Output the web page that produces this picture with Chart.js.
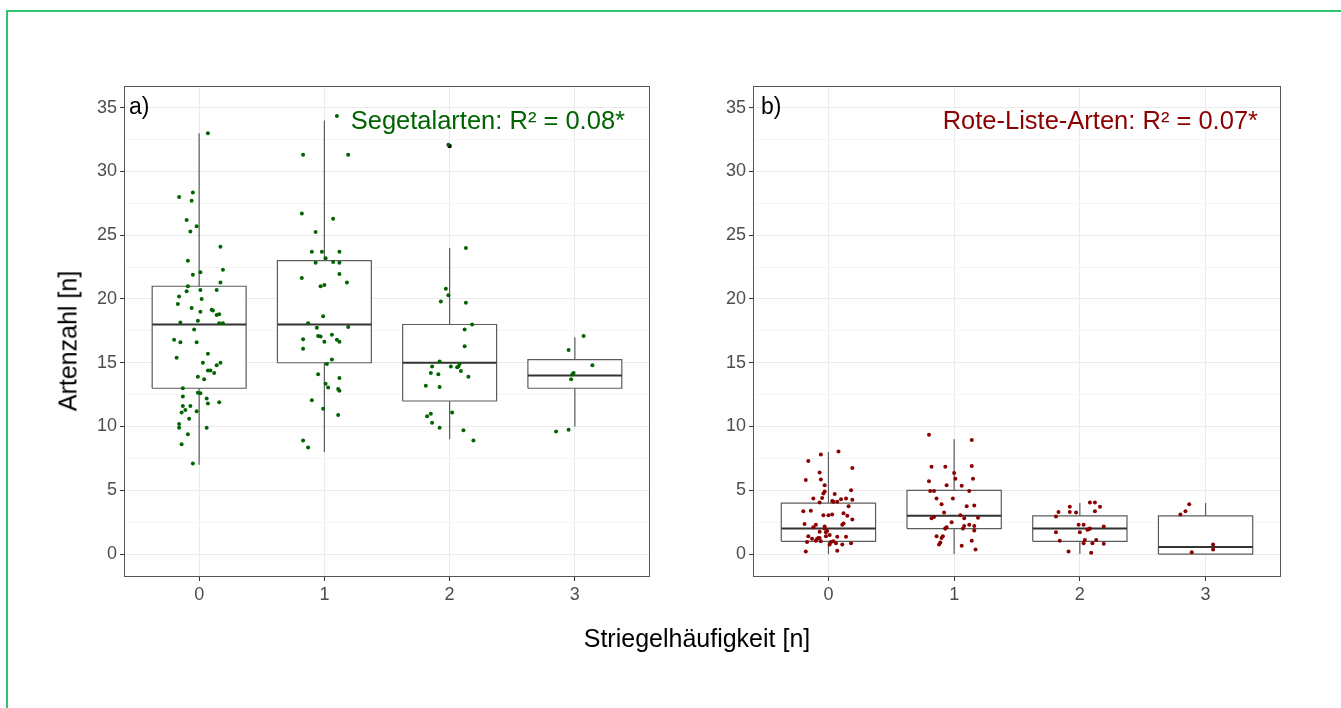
<!DOCTYPE html>
<html>
<head>
<meta charset="utf-8">
<script src="https://cdn.jsdelivr.net/npm/chart.js@4/dist/chart.umd.min.js"></script>
<style>
  body { margin: 0; background: #fff; font-family: "Liberation Sans", Arial, sans-serif; }
  #page { position: relative; width: 1341px; height: 708px; overflow: hidden; }
  #frame { position: absolute; left: 6px; top: 10px; width: 1400px; height: 800px;
           border-top: 2px solid #2ec46e; border-left: 2px solid #2ec46e; }
  canvas { position: absolute; top: 0; }
  .txt { position: absolute; line-height: 1; white-space: nowrap; }
</style>
</head>
<body>
<div id="page">
  <div id="frame"></div>
  <canvas id="chartA" width="680" height="708" style="left:0"></canvas>
  <canvas id="chartB" width="661" height="708" style="left:680px"></canvas>
  <div class="txt" style="left:129px; top:95px; font-size:23px; color:#000">a)</div>
  <div class="txt" style="right:716px; top:108px; font-size:25.5px; color:#006400">Segetalarten: R² = 0.08*</div>
  <div class="txt" style="left:761px; top:95px; font-size:23px; color:#000">b)</div>
  <div class="txt" style="right:83px; top:108px; font-size:25.5px; color:#8b0000">Rote-Liste-Arten: R² = 0.07*</div>
  <div class="txt" style="left:68px; top:341px; font-size:25px; color:#000; transform: translate(-50%, -50%) rotate(-90deg);">Artenzahl [n]</div>
  <div class="txt" style="left:697px; top:626px; font-size:25px; color:#000; transform: translateX(-50%);">Striegelhäufigkeit [n]</div>
</div>
<script>
// Striegelhäufigkeit (Kategorien) und Achsenticks
const groups = [0, 1, 2, 3];
const yTicks = [0, 2.5, 5, 7.5, 10, 12.5, 15, 17.5, 20, 22.5, 25, 27.5, 30, 32.5, 35];

// a) Segetalarten - Boxplot-Kennwerte
const segLow    = [7, 8, 9, 10];
const segQ1     = [13, 15, 12, 13];
const segMedian = [18, 18, 15, 14];
const segQ3     = [21, 23, 18, 15.25];
const segHigh   = [33, 34, 24, 17];
const segOutliers = [[2, 32]];

// a) Einzelwerte (gejittert): [x, Artenzahl]
const segPoints = [
  [0.07,33.0],[-0.16,28.0],[-0.05,28.35],[-0.06,27.7],[-0.10,26.2],[-0.02,25.7],[-0.07,25.3],[0.17,24.1],
  [-0.09,23.0],[0.19,22.3],[-0.05,21.9],[0.01,22.1],[0.17,21.3],[-0.09,21.0],[-0.10,20.6],[0.01,20.7],
  [0.14,20.7],[-0.16,20.2],[-0.17,19.6],[0.02,20.0],[-0.06,19.3],[0.01,19.0],[0.11,19.1],[0.10,19.15],
  [0.14,18.75],[0.16,18.8],[-0.01,18.3],[-0.15,18.15],[0.16,18.1],[0.19,18.1],[-0.04,17.6],[-0.20,16.8],
  [-0.15,16.6],[-0.02,16.6],[0.07,15.7],[-0.18,15.4],[0.03,15.0],[0.17,15.0],[0.14,14.8],[0.07,14.4],
  [0.09,14.4],[0.12,14.2],[-0.01,13.9],[0.04,13.7],[-0.13,13.0],[-0.01,12.65],[0.01,12.6],[-0.13,12.35],
  [0.06,12.2],[0.16,11.9],[0.07,11.8],[-0.13,11.6],[-0.07,11.6],[-0.11,11.3],[-0.14,11.1],[-0.02,11.2],
  [-0.08,10.6],[-0.16,10.2],[-0.16,9.9],[0.06,9.9],[-0.09,9.4],[-0.14,8.6],[-0.05,7.1],
  [1.10,34.35],[0.83,31.3],[1.19,31.3],[0.82,26.7],[1.07,26.3],[0.93,25.25],[0.90,23.7],[0.98,23.7],
  [1.12,23.7],[0.93,22.85],[1.01,23.2],[1.07,22.9],[1.12,22.85],[0.82,21.65],[1.12,21.95],[1.18,21.3],
  [0.97,21.0],[1.00,21.1],[0.99,18.65],[0.87,18.1],[1.19,17.8],[0.94,17.75],[0.83,16.85],[0.95,17.1],
  [0.97,17.05],[1.06,17.2],[1.00,16.65],[1.10,16.8],[1.12,16.65],[0.83,16.1],[1.06,15.25],[1.02,14.9],
  [0.95,14.1],[1.12,13.8],[1.01,13.35],[1.03,13.05],[1.11,12.95],[1.12,12.8],[0.90,12.05],[0.99,11.4],
  [1.11,10.9],[0.83,8.9],[0.87,8.35],
  [1.99,32.1],[2.13,24.0],[1.97,20.8],[1.99,20.3],[1.93,19.8],[2.13,19.7],[2.18,18.0],[2.12,17.6],
  [2.12,16.3],[1.92,15.1],[1.86,14.7],[2.01,14.7],[2.07,14.7],[2.08,14.9],[2.06,14.65],[2.09,14.35],
  [1.85,14.2],[1.91,14.1],[2.15,13.9],[1.81,13.2],[1.92,13.1],[2.02,11.1],[1.82,10.8],[1.85,11.0],
  [1.86,10.3],[1.92,9.9],[2.11,9.7],[2.19,8.9],
  [3.07,17.1],[2.95,16.0],[3.14,14.8],[2.99,14.2],[2.98,14.1],[2.97,13.7],[2.85,9.6],[2.95,9.75]
];

// b) Rote-Liste-Arten - Boxplot-Kennwerte
const rlLow    = [0, 0, 0, 0];
const rlQ1     = [1, 2, 1, 0];
const rlMedian = [2, 3, 2, 0.55];
const rlQ3     = [4, 5, 3, 3];
const rlHigh   = [8, 9, 4, 4];
const rlOutliers = [];

// b) Einzelwerte (gejittert)
const rlPoints = [
  [-0.16,7.3],[-0.06,7.8],[0.08,8.05],[-0.18,5.8],[-0.07,6.4],[-0.06,5.85],[0.19,6.75],[-0.03,5.4],
  [-0.03,4.9],[-0.04,4.75],[0.05,4.7],[0.18,5.0],[-0.12,4.35],[-0.05,4.4],[0.03,4.15],[0.04,4.1],
  [0.07,4.1],[0.10,4.3],[0.14,4.35],[0.19,4.25],[-0.07,4.05],[0.16,3.75],[-0.20,3.35],[-0.14,3.4],
  [-0.04,3.05],[0.00,3.05],[0.03,3.1],[0.12,3.2],[0.15,3.0],[0.19,2.7],[-0.19,2.35],[-0.10,2.3],
  [0.11,2.3],[0.12,2.4],[-0.12,2.1],[-0.03,2.15],[-0.03,2.0],[-0.07,1.75],[-0.02,1.7],[-0.01,1.8],
  [0.01,1.5],[-0.16,1.4],[-0.13,1.2],[-0.09,1.2],[-0.08,1.25],[-0.07,1.25],[0.07,1.35],[0.14,1.35],
  [-0.02,1.4],[-0.17,0.95],[-0.10,1.05],[-0.06,1.0],[0.02,0.95],[0.04,1.0],[0.06,0.85],[0.01,0.75],
  [0.11,0.75],[0.18,0.85],[-0.18,0.2],[0.07,0.25],
  [0.80,9.35],[1.14,8.95],[0.82,6.85],[0.93,6.85],[1.14,6.9],[1.00,6.35],[1.01,5.9],[1.15,5.9],
  [0.80,5.7],[0.94,5.4],[1.06,5.35],[0.81,4.95],[0.84,4.95],[1.12,4.95],[0.86,4.35],[0.99,4.35],
  [0.90,3.9],[1.10,3.75],[1.16,3.8],[0.92,3.25],[0.84,2.9],[0.82,2.8],[1.05,3.05],[1.08,2.8],
  [1.19,2.85],[0.98,2.5],[1.12,2.3],[1.08,2.2],[0.94,2.1],[0.93,2.0],[1.07,2.0],[1.16,2.2],
  [1.16,1.85],[0.93,2.0],[0.86,1.4],[0.91,1.4],[0.90,1.25],[1.14,1.05],[0.89,0.9],[0.88,0.75],
  [1.06,0.65],[1.17,0.35],
  [2.08,4.05],[2.12,4.05],[1.92,3.7],[2.16,3.7],[1.83,3.3],[1.92,3.3],[1.97,3.25],[2.12,3.35],
  [1.81,2.95],[1.99,2.3],[2.03,2.3],[2.19,2.15],[2.08,2.0],[2.07,1.95],[2.06,1.9],[1.81,1.7],
  [2.00,1.7],[1.84,1.05],[2.04,1.1],[2.13,1.1],[2.03,0.85],[2.10,0.85],[2.19,0.8],[1.91,0.2],[2.09,0.1],
  [2.87,3.9],[2.84,3.35],[2.80,3.1],[3.06,0.75],[3.06,0.35],[2.89,0.15]
];

const BOX_HALF = 0.375;

function boxDatasets(low, q1, med, q3, high, points, outliers, color) {
    const sets = [];
    // Punkte zuerst (liegen oben)
    sets.push({
        data: points.map(p => ({ x: p[0], y: p[1] })),
        pointRadius: 2, pointBackgroundColor: color, pointBorderWidth: 0, showLine: false
    });
    sets.push({
        data: outliers.map(p => ({ x: p[0], y: p[1] })),
        pointRadius: 2.2, pointBackgroundColor: '#000', pointBorderWidth: 0, showLine: false
    });
    // Median
    const medData = [];
    groups.forEach((g, i) => {
        medData.push({ x: g - BOX_HALF, y: med[i] }, { x: g + BOX_HALF, y: med[i] }, { x: g, y: null });
    });
    sets.push({ data: medData, showLine: true, borderColor: '#333', borderWidth: 2, pointRadius: 0, spanGaps: false });
    // Boxen
    groups.forEach((g, i) => {
        sets.push({
            data: [
                { x: g - BOX_HALF, y: q1[i] }, { x: g + BOX_HALF, y: q1[i] },
                { x: g + BOX_HALF, y: q3[i] }, { x: g - BOX_HALF, y: q3[i] },
                { x: g - BOX_HALF, y: q1[i] }
            ],
            showLine: true, borderColor: '#5c5c5c', borderWidth: 1.2, pointRadius: 0,
            fill: 'shape', backgroundColor: '#fff', tension: 0
        });
    });
    // Whisker
    const whData = [];
    groups.forEach((g, i) => {
        whData.push({ x: g, y: low[i] }, { x: g, y: high[i] }, { x: g, y: null });
    });
    sets.push({ data: whData, showLine: true, borderColor: '#5c5c5c', borderWidth: 1.2, pointRadius: 0, spanGaps: false });
    return sets;
}

// Rahmen um die Plotfläche
const panelBorder = {
    id: 'panelBorder',
    afterDraw(chart) {
        const a = chart.chartArea, ctx = chart.ctx;
        ctx.save();
        ctx.strokeStyle = '#555';
        ctx.lineWidth = 1;
        ctx.strokeRect(a.left + 0.5, a.top + 0.5, a.right - a.left - 1, a.bottom - a.top - 1);
        ctx.restore();
    }
};

function makeChart(id, datasets, yWidth, padRight) {
    const ctx = document.getElementById(id).getContext('2d');
    return new Chart(ctx, {
        type: 'scatter',
        data: { datasets: datasets },
        options: {
            responsive: false,
            animation: false,
            layout: { padding: { left: 0, top: 86, right: padRight, bottom: 0 } },
            plugins: { legend: { display: false }, tooltip: { enabled: false } },
            scales: {
                x: {
                    type: 'linear', min: -0.6, max: 3.6,
                    afterBuildTicks: s => { s.ticks = groups.map(v => ({ value: v })); },
                    afterFit: s => { s.height = 131; },
                    grid: { color: '#ebebeb', tickLength: 4, tickColor: '#333' },
                    border: { display: false },
                    ticks: { color: '#4d4d4d', font: { size: 18, family: 'Liberation Sans, Arial' }, padding: 3, maxRotation: 0,
                             callback: v => String(v) }
                },
                y: {
                    type: 'linear', min: -1.8, max: 36.7,
                    afterBuildTicks: s => { s.ticks = yTicks.map(v => ({ value: v })); },
                    afterFit: s => { s.width = yWidth; },
                    grid: {
                        color: c => (c.tick && c.tick.value % 5 === 0) ? '#ebebeb' : '#f5f5f5',
                        tickLength: 4,
                        tickColor: c => (c.tick && c.tick.value % 5 === 0) ? '#333' : 'rgba(0,0,0,0)'
                    },
                    border: { display: false },
                    ticks: { color: '#4d4d4d', font: { size: 18, family: 'Liberation Sans, Arial' }, padding: 3,
                             callback: v => (v % 5 === 0 ? String(v) : '') }
                }
            }
        },
        plugins: [panelBorder]
    });
}

makeChart('chartA', boxDatasets(segLow, segQ1, segMedian, segQ3, segHigh, segPoints, segOutliers, '#006400'), 124, 30);
makeChart('chartB', boxDatasets(rlLow, rlQ1, rlMedian, rlQ3, rlHigh, rlPoints, rlOutliers, '#8b0000'), 73, 60);
</script>
</body>
</html>
